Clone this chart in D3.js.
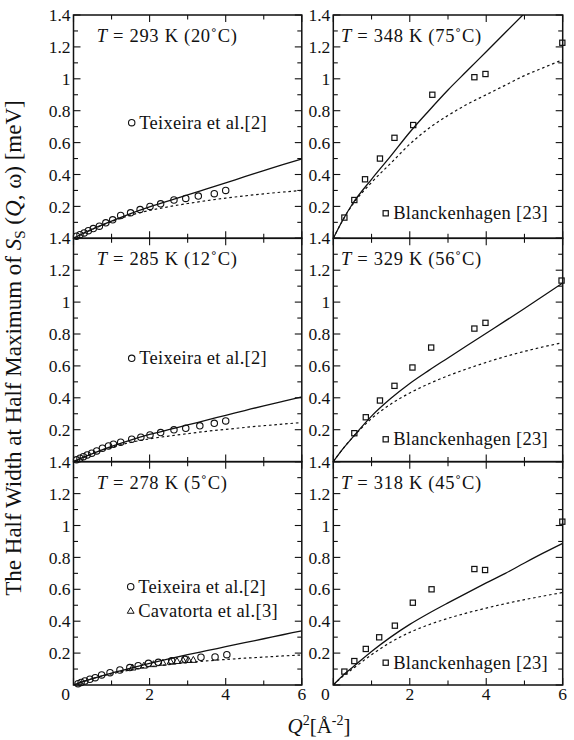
<!DOCTYPE html>
<html>
<head>
<meta charset="utf-8">
<script src="https://cdn.jsdelivr.net/npm/d3@7"></script>
<style>
  html, body { margin: 0; padding: 0; background: #fff; }
  svg, svg text { font-family: "Liberation Serif", "Times New Roman", Times, "DejaVu Serif", serif; }
</style>
</head>
<body>
<svg id="chart" width="574" height="740" font-family="Liberation Serif, Times New Roman, DejaVu Serif, serif"></svg>
<script>
// ---- data -------------------------------------------------------------
const yTickValues = [0.2, 0.4, 0.6, 0.8, 1.0, 1.2, 1.4];
const xTickValues = [0, 2, 4, 6];
const panelTitles = ["293 K (20˚C)", "348 K (75˚C)", "285 K (12˚C)", "329 K (56˚C)", "278 K (5˚C)", "318 K (45˚C)"];

// model curves, sampled on a common Q^2 grid
const curveQ2 = [0, 0.25, 0.5, 1, 1.5, 2, 2.5, 3, 3.5, 4, 4.5, 5, 5.5, 6];
const solid293 = [0, 0.030, 0.058, 0.108, 0.155, 0.197, 0.235, 0.272, 0.310, 0.348, 0.386, 0.424, 0.462, 0.498];
const dotted293 = [0, 0.030, 0.057, 0.105, 0.145, 0.175, 0.198, 0.218, 0.236, 0.252, 0.266, 0.279, 0.290, 0.300];
const solid285 = [0, 0.026, 0.050, 0.095, 0.135, 0.170, 0.200, 0.230, 0.260, 0.290, 0.320, 0.350, 0.378, 0.405];
const dotted285 = [0, 0.026, 0.050, 0.090, 0.120, 0.143, 0.160, 0.175, 0.190, 0.202, 0.214, 0.225, 0.235, 0.245];
const solid278 = [0, 0.021, 0.040, 0.075, 0.105, 0.135, 0.163, 0.190, 0.215, 0.240, 0.265, 0.290, 0.315, 0.340];
const dotted278 = [0, 0.021, 0.040, 0.070, 0.095, 0.115, 0.128, 0.140, 0.151, 0.160, 0.168, 0.175, 0.182, 0.188];
const solid348 = [0, 0.115, 0.215, 0.370, 0.515, 0.665, 0.800, 0.930, 1.050, 1.170, 1.290, 1.410, 1.530, 1.640];
const dotted348 = [0, 0.115, 0.210, 0.350, 0.470, 0.590, 0.690, 0.770, 0.840, 0.900, 0.960, 1.020, 1.070, 1.120];
const solid329 = [0, 0.080, 0.150, 0.285, 0.395, 0.490, 0.572, 0.650, 0.728, 0.805, 0.882, 0.960, 1.040, 1.120];
const dotted329 = [0, 0.080, 0.150, 0.270, 0.360, 0.430, 0.488, 0.538, 0.582, 0.622, 0.659, 0.691, 0.720, 0.745];
const solid318 = [0, 0.060, 0.110, 0.210, 0.300, 0.380, 0.450, 0.515, 0.578, 0.640, 0.700, 0.765, 0.828, 0.888];
const dotted318 = [0, 0.055, 0.100, 0.190, 0.268, 0.330, 0.378, 0.418, 0.452, 0.482, 0.510, 0.535, 0.558, 0.580];

// Teixeira et al. [2]
const teix293Q2 = [0.08, 0.17, 0.28, 0.39, 0.52, 0.68, 0.85, 1.03, 1.24, 1.50, 1.75, 2.01, 2.29, 2.64, 2.95, 3.28, 3.70, 4.00];
const teix293W  = [0.013, 0.023, 0.034, 0.048, 0.061, 0.076, 0.097, 0.116, 0.143, 0.160, 0.180, 0.200, 0.216, 0.240, 0.250, 0.265, 0.280, 0.300];
const teix285Q2 = [0.08, 0.17, 0.26, 0.36, 0.48, 0.61, 0.76, 0.92, 1.05, 1.24, 1.53, 1.77, 2.01, 2.29, 2.64, 2.95, 3.32, 3.70, 4.00];
const teix285W  = [0.011, 0.021, 0.031, 0.042, 0.053, 0.067, 0.084, 0.098, 0.109, 0.122, 0.140, 0.153, 0.167, 0.182, 0.199, 0.209, 0.224, 0.240, 0.255];
const teix278Q2 = [0.12, 0.20, 0.30, 0.43, 0.57, 0.74, 0.96, 1.22, 1.48, 1.70, 1.97, 2.23, 2.58, 2.93, 3.35, 3.72, 4.03];
const teix278W  = [0.008, 0.016, 0.025, 0.036, 0.046, 0.063, 0.077, 0.094, 0.109, 0.121, 0.136, 0.142, 0.152, 0.161, 0.174, 0.176, 0.190];
// Cavatorta et al. [3]
const cava278Q2 = [1.55, 1.85, 2.10, 2.35, 2.55, 2.72, 2.88, 3.02, 3.15];
const cava278W  = [0.110, 0.122, 0.131, 0.140, 0.147, 0.151, 0.155, 0.157, 0.158];
// Blanckenhagen [23]
const blan348Q2 = [0.29, 0.55, 0.83, 1.22, 1.60, 2.09, 2.59, 3.69, 3.98, 5.99];
const blan348W  = [0.130, 0.240, 0.370, 0.500, 0.630, 0.710, 0.900, 1.010, 1.030, 1.226];
const blan329Q2 = [0.55, 0.85, 1.22, 1.60, 2.07, 2.56, 3.69, 3.98, 5.97];
const blan329W  = [0.178, 0.278, 0.383, 0.475, 0.590, 0.715, 0.834, 0.870, 1.135];
const blan318Q2 = [0.29, 0.55, 0.85, 1.20, 1.61, 2.08, 2.57, 3.69, 3.97, 5.99];
const blan318W  = [0.084, 0.150, 0.226, 0.299, 0.372, 0.516, 0.600, 0.727, 0.721, 1.024];

const legendTeix = "Teixeira et al.[2]";
const legendCava = "Cavatorta et al.[3]";
const legendBlan = "Blanckenhagen [23]";

// ---- layout -----------------------------------------------------------
const FONT = "Liberation Serif, Times New Roman, DejaVu Serif, serif";
const svg = d3.select("#chart");
const colX = [[73.5, 301.8], [333.3, 562.7]];
const rowTop = [15, 238.3, 461.7];
const rowH = 223.3;
const fsTick = 17.5;     // tick labels
const fsText = 18.5;     // panel titles and legends

const zip = (xs, ys) => xs.map((x, i) => [x, ys[i]]);

const panels = [
  { col: 0, row: 0, title: panelTitles[0], solid: solid293, dotted: dotted293,
    series: [{ shape: "circle", pts: zip(teix293Q2, teix293W) }],
    legend: [{ shape: "circle", text: legendTeix, x: 131.7, y: 122.7 }] },
  { col: 1, row: 0, title: panelTitles[1], solid: solid348, dotted: dotted348,
    series: [{ shape: "square", pts: zip(blan348Q2, blan348W) }],
    legend: [{ shape: "square", text: legendBlan, x: 385.7, y: 213.3 }] },
  { col: 0, row: 1, title: panelTitles[2], solid: solid285, dotted: dotted285,
    series: [{ shape: "circle", pts: zip(teix285Q2, teix285W) }],
    legend: [{ shape: "circle", text: legendTeix, x: 131.7, y: 358.3 }] },
  { col: 1, row: 1, title: panelTitles[3], solid: solid329, dotted: dotted329,
    series: [{ shape: "square", pts: zip(blan329Q2, blan329W) }],
    legend: [{ shape: "square", text: legendBlan, x: 385.7, y: 439.3 }] },
  { col: 0, row: 2, title: panelTitles[4], solid: solid278, dotted: dotted278,
    series: [{ shape: "circle", pts: zip(teix278Q2, teix278W) },
             { shape: "triangle", pts: zip(cava278Q2, cava278W) }],
    legend: [{ shape: "circle", text: legendTeix, x: 130.7, y: 586.7 },
             { shape: "triangle", text: legendCava, x: 130.7, y: 610.7 }] },
  { col: 1, row: 2, title: panelTitles[5], solid: solid318, dotted: dotted318,
    series: [{ shape: "square", pts: zip(blan318Q2, blan318W) }],
    legend: [{ shape: "square", text: legendBlan, x: 385.7, y: 662.7 }] }
];

const defs = svg.append("defs");

function marker(g, shape, cx, cy) {
  if (shape === "circle") {
    g.append("circle").attr("cx", cx).attr("cy", cy).attr("r", 3.2)
      .attr("fill", "none").attr("stroke", "#111").attr("stroke-width", 1.1);
  } else if (shape === "square") {
    g.append("rect").attr("x", cx - 2.6).attr("y", cy - 2.6).attr("width", 5.2).attr("height", 5.2)
      .attr("fill", "none").attr("stroke", "#111").attr("stroke-width", 1.2);
  } else {
    const s = 3.4;
    g.append("path").attr("d", `M${cx},${cy - s}L${cx + s},${cy + s * 0.75}L${cx - s},${cy + s * 0.75}Z`)
      .attr("fill", "none").attr("stroke", "#111").attr("stroke-width", 1.0);
  }
}

panels.forEach((p, i) => {
  const [x0, x1] = colX[p.col];
  const y0 = rowTop[p.row] + rowH, y1 = rowTop[p.row];
  const x = d3.scaleLinear().domain([0, 6]).range([x0, x1]);
  const y = d3.scaleLinear().domain([0, 1.4]).range([y0, y1]);
  const g = svg.append("g").attr("font-family", FONT);

  defs.append("clipPath").attr("id", "clip" + i)
    .append("rect").attr("x", x0).attr("y", y1).attr("width", x1 - x0).attr("height", y0 - y1);

  // inward ticks on all four sides
  const ticks = g.append("g").attr("stroke", "#111").attr("stroke-width", 1.1);
  d3.range(0, 6.01, 1).forEach(v => {
    const len = (v % 2 === 0) ? 7 : 4.5;
    ticks.append("line").attr("x1", x(v)).attr("x2", x(v)).attr("y1", y0).attr("y2", y0 - len);
    ticks.append("line").attr("x1", x(v)).attr("x2", x(v)).attr("y1", y1).attr("y2", y1 + len);
  });
  d3.range(0, 14.01, 1).forEach(k => {
    const v = k / 10;
    const len = (k % 2 === 0) ? 7 : 4.5;
    ticks.append("line").attr("x1", x0).attr("x2", x0 + len).attr("y1", y(v)).attr("y2", y(v));
    ticks.append("line").attr("x1", x1).attr("x2", x1 - len).attr("y1", y(v)).attr("y2", y(v));
  });

  // y tick labels
  g.append("g").selectAll("text").data(yTickValues).join("text")
    .attr("x", x0 - 3).attr("y", d => y(d)).attr("dy", "0.35em")
    .attr("text-anchor", "end").attr("font-size", fsTick).attr("fill", "#111")
    .text(d => d3.format("~g")(d));

  // x tick labels on the bottom row
  if (p.row === 2) {
    g.append("g").selectAll("text").data(xTickValues).join("text")
      .attr("x", d => x(d) + (d === 0 ? -8 : 0)).attr("y", y0 + 15)
      .attr("text-anchor", "middle").attr("font-size", fsTick).attr("fill", "#111")
      .text(d => d);
  }

  // model curves
  const line = d3.line().x(d => x(d[0])).y(d => y(d[1])).curve(d3.curveMonotoneX);
  const curves = g.append("g").attr("clip-path", `url(#clip${i})`).attr("fill", "none").attr("stroke", "#111");
  curves.append("path").attr("d", line(zip(curveQ2, p.dotted)))
    .attr("stroke-width", 1.2).attr("stroke-dasharray", "2.6,2.8");
  curves.append("path").attr("d", line(zip(curveQ2, p.solid)))
    .attr("stroke-width", 1.3);

  // measured points
  p.series.forEach(s => s.pts.forEach(d => marker(g, s.shape, x(d[0]), y(d[1]))));

  // frame
  g.append("rect").attr("x", x0).attr("y", y1).attr("width", x1 - x0).attr("height", y0 - y1)
    .attr("fill", "none").attr("stroke", "#111").attr("stroke-width", 1.5);

  // panel title
  const t = g.append("text").attr("x", p.col === 0 ? 96.7 : 341)
    .attr("y", y1 + 27).attr("font-size", fsText).attr("letter-spacing", 0.7).attr("fill", "#111");
  t.append("tspan").attr("font-style", "italic").text("T");
  t.append("tspan").text(" = " + p.title);

  // legend
  p.legend.forEach(l => {
    marker(g, l.shape, l.x, l.y);
    g.append("text").attr("x", l.x + 7.5).attr("y", l.y).attr("dy", "0.33em")
      .attr("font-size", fsText).attr("letter-spacing", 0.3).attr("fill", "#111").text(l.text);
  });
});

// axis titles
const xt = svg.append("text").attr("x", 319).attr("y", 733).attr("text-anchor", "middle")
  .attr("font-family", FONT).attr("font-size", 21).attr("fill", "#111");
xt.append("tspan").attr("font-style", "italic").text("Q");
xt.append("tspan").attr("font-size", 14).attr("dy", -8).text("2");
xt.append("tspan").attr("dy", 8).text("[Å");
xt.append("tspan").attr("font-size", 14).attr("dy", -8).text("-2");
xt.append("tspan").attr("dy", 8).text("]");

const yt = svg.append("text").attr("transform", "translate(21,348) rotate(-90)")
  .attr("font-family", FONT).attr("text-anchor", "middle").attr("font-size", 23).attr("fill", "#111");
yt.append("tspan").text("The Half Width at Half Maximum of ");
yt.append("tspan").attr("font-style", "italic").text("S");
yt.append("tspan").attr("font-size", 15).attr("dy", 4).text("S");
yt.append("tspan").attr("dy", -4).text(" (");
yt.append("tspan").attr("font-style", "italic").text("Q");
yt.append("tspan").text(", ω) [meV]");
</script>
</body>
</html>
